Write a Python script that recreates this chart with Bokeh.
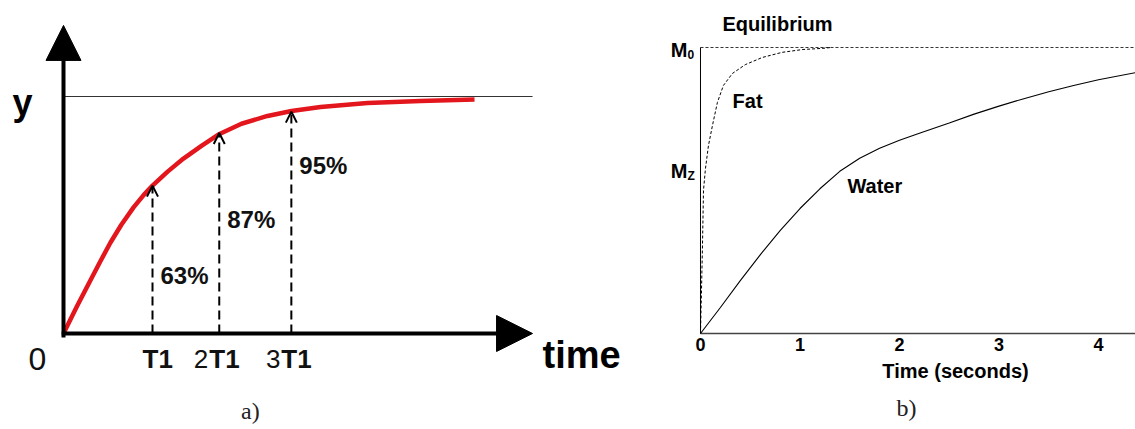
from bokeh.plotting import figure
from bokeh.layouts import row
from bokeh.models import Arrow, NormalHead, OpenHead, ColumnDataSource, Range1d
from bokeh.core.properties import value
from bokeh.embed import file_html
from bokeh.resources import INLINE

# ---------------- Panel a: T1 recovery (time in units of T1, signal as fraction of max) ----------------
recovery_time = [0.0, 0.15, 0.303, 0.416, 0.528, 0.65, 0.787, 0.9, 1.0, 1.17, 1.348, 1.55, 1.753,
                 2.0, 2.292, 2.562, 2.888, 3.416, 4.011, 4.618]
recovery_signal = [0.0, 0.114, 0.225, 0.306, 0.384, 0.459, 0.532, 0.584, 0.624, 0.683, 0.738, 0.792, 0.842,
                   0.885, 0.918, 0.939, 0.956, 0.973, 0.981, 0.987]
marker_time = [1.0, 1.75, 2.56]          # T1, 2T1, 3T1 as drawn
marker_signal = [0.624, 0.846, 0.936]    # arrow tips on the curve
percent_labels = ["63%", "87%", "95%"]
percent_label_y = [0.211, 0.447, 0.675]
tick_prefix = ["", "2", "3"]
tick_core = ["T1", "T1", "T1"]
time_axis_end_a = 5.27
signal_axis_end_a = 1.30
asymptote_a = 1.0

# ---------------- Panel b: Fat / Water recovery (seconds, Mz / M0) ----------------
time_ticks = [0, 1, 2, 3, 4]
time_tick_labels = ["0", "1", "2", "3", "4"]
fat_time = [0.0, 0.01, 0.02, 0.03, 0.05, 0.08, 0.12, 0.17, 0.23, 0.32, 0.45, 0.62, 0.82, 1.03, 1.23, 1.31]
fat_mz = [0.0, 0.15, 0.31, 0.50, 0.577, 0.657, 0.727, 0.808, 0.867, 0.909, 0.94, 0.965, 0.983, 0.993, 0.997, 1.0]
water_time = [0.0, 0.2, 0.4, 0.6, 0.8, 1.0, 1.2, 1.4, 1.6, 1.8, 2.0, 2.2, 2.5, 2.75, 3.0, 3.25, 3.5, 3.75, 4.0, 4.37]
water_mz = [0.0, 0.091, 0.185, 0.275, 0.36, 0.437, 0.506, 0.567, 0.613, 0.648, 0.676, 0.70, 0.736, 0.767,
            0.795, 0.821, 0.845, 0.867, 0.887, 0.912]
m0_level = 1.0
mz_level = 0.542
time_axis_end_b = 4.5

SANS = value("Liberation Sans")
SERIF = value("Liberation Serif")


def label(p, x, y, text, size, font=SANS, style="normal", align="left", color="black", x_offset=0):
    # y is the wanted baseline; a small upward shift compensates the renderer's baseline placement
    p.text(x=x, y=y, text=text, x_offset=x_offset, y_offset=-round(0.35 * size),
           text_font=font, text_font_style=style, text_font_size=f"{size}px",
           text_align=align, text_baseline="alphabetic", text_color=color)


# ================= Panel a =================
pa = figure(width=640, height=429, x_range=Range1d(-0.7079, 6.483), y_range=Range1d(-0.4051, 1.4051),
            output_backend="svg", toolbar_location=None, min_border=0,
            x_axis_type=None, y_axis_type=None)
pa.grid.visible = False
pa.outline_line_color = None

pa.line(x=[0, time_axis_end_a], y=[asymptote_a, asymptote_a], line_color="#333333", line_width=1)
pa.line(x=recovery_time, y=recovery_signal, line_color="#e3161d", line_width=4.5, line_join="round")

pa.add_layout(Arrow(end=NormalHead(size=35, fill_color="black", line_color="black"),
                    x_start=0, y_start=-0.017, x_end=0, y_end=signal_axis_end_a,
                    line_width=4, line_color="black"))
pa.add_layout(Arrow(end=NormalHead(size=36, fill_color="black", line_color="black"),
                    x_start=-0.02, y_start=0, x_end=time_axis_end_a, y_end=0,
                    line_width=4, line_color="black"))

dsrc = ColumnDataSource(dict(x=marker_time, y0=[0.0] * len(marker_time), y1=marker_signal))
pa.add_layout(Arrow(end=OpenHead(size=11, line_width=2, line_color="black"),
                    x_start="x", y_start="y0", x_end="x", y_end="y1", source=dsrc,
                    line_width=2, line_dash="9 5", line_color="black"))

label(pa, marker_time, percent_label_y, percent_labels, 24, style="bold", color="#111111", x_offset=8)
tick_y_a = -0.1435
label(pa, marker_time, [tick_y_a] * 3, tick_core, 26, style="bold", color="#111111", x_offset=-10)
label(pa, marker_time, [tick_y_a] * 3, tick_prefix, 26, align="right", color="#111111", x_offset=-11)
label(pa, [-0.393], [-0.156], ["0"], 32, color="#111111")
label(pa, [5.382], [tick_y_a], ["time"], 38, style="bold")
label(pa, [-0.573], [0.92], ["y"], 36, style="bold")
label(pa, [2.10], [-0.359], ["a)"], 24, font=SERIF, align="center", color="#222222")

# ================= Panel b =================
pb = figure(width=495, height=429, x_range=Range1d(-0.603, 4.372), y_range=Range1d(-0.3357, 1.1643),
            output_backend="svg", toolbar_location=None, min_border=0,
            x_axis_type=None, y_axis_type=None)
pb.grid.visible = False
pb.outline_line_color = None

pb.line(x=[0, time_axis_end_b], y=[m0_level, m0_level], line_color="#333333", line_width=1, line_dash="3 2")
pb.line(x=[0, 0], y=[0, m0_level], line_color="black", line_width=1)
pb.line(x=[0, time_axis_end_b], y=[0, 0], line_color="#444444", line_width=1.6)
pb.line(x=fat_time, y=fat_mz, line_color="black", line_width=1, line_dash="3 2")
pb.line(x=water_time, y=water_mz, line_color="black", line_width=1.1)

label(pb, time_ticks, [-0.0594] * len(time_ticks), time_tick_labels, 18, style="bold", align="center")
label(pb, [2.563], [-0.154], ["Time (seconds)"], 20, style="bold", align="center")
label(pb, [0.221], [1.056], ["Equilibrium"], 20, style="bold")
label(pb, [0.322], [0.787], ["Fat"], 20, style="bold")
label(pb, [1.477], [0.49], ["Water"], 20, style="bold")
label(pb, [-0.131, -0.131], [m0_level - 0.035, mz_level], ["M", "M"], 20, style="bold", align="right")
label(pb, [-0.131, -0.131], [m0_level - 0.038, mz_level - 0.007], ["0", "Z"], 12, style="bold")
label(pb, [2.07], [-0.287], ["b)"], 24, font=SERIF, align="center", color="#222222")

layout = row(pa, pb)
open("out.html", "w").write(file_html(layout, INLINE))
